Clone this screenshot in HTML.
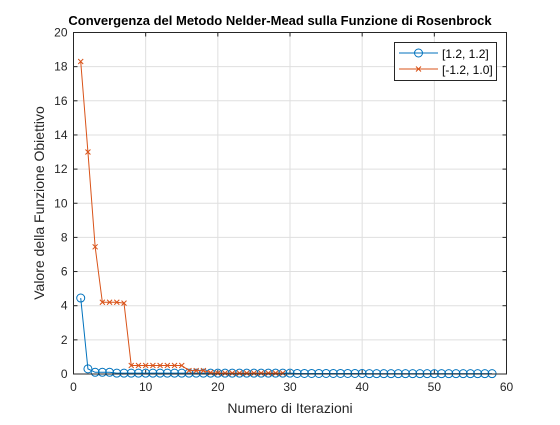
<!DOCTYPE html>
<html><head><meta charset="utf-8"><style>
body{margin:0;background:#fff;}
svg text{font-family:"Liberation Sans",sans-serif;}
</style></head><body>
<svg id="chart" width="560" height="420" xmlns="http://www.w3.org/2000/svg">
<rect x="0" y="0" width="560" height="420" fill="#fff"/>
<g id="grid"></g>
<g id="ticks"></g>
<g id="series"></g>
<rect x="73.5" y="32.5" width="433" height="341.5" fill="none" stroke="#262626" stroke-width="1"/>
<text x="280" y="25" text-anchor="middle" font-size="13" font-weight="bold" fill="#000">Convergenza del Metodo Nelder-Mead sulla Funzione di Rosenbrock</text>
<text x="290" y="413" text-anchor="middle" font-size="14" fill="#262626">Numero di Iterazioni</text>
<text transform="translate(44,203) rotate(-90)" text-anchor="middle" font-size="14" fill="#262626">Valore della Funzione Obiettivo</text>
<g>
<rect x="394.5" y="42.5" width="102" height="38" fill="#fff" stroke="#262626"/>
<g>
<line x1="399" y1="53" x2="438" y2="53" stroke="#0072BD"/>
<circle cx="418.5" cy="53" r="4" fill="none" stroke="#0072BD"/>
<text x="442" y="58" font-size="12" fill="#000">[1.2, 1.2]</text></g>
<g>
<line x1="399" y1="69" x2="438" y2="69" stroke="#D95319"/>
<path d="M416,66.5 L421,71.5 M421,66.5 L416,71.5" stroke="#D95319"/>
<text x="442" y="74" font-size="12" fill="#000">[-1.2, 1.0]</text></g>
</g>
</svg>
<script>
const xTicks=[0,10,20,30,40,50,60];
const yTicks=[0,2,4,6,8,10,12,14,16,18,20];
const seriesA=[4.45,0.3,0.1,0.1,0.1,0.05,0.05,0.05,0.05,0.05,0.05,0.05,0.05,0.05,0.05,0.05,0.05,0.05,0.05,0.05,0.05,0.05,0.05,0.05,0.05,0.05,0.05,0.05,0.05,0.05,0.03,0.03,0.03,0.03,0.03,0.03,0.03,0.03,0.03,0.03,0.02,0.02,0.02,0.02,0.02,0.02,0.02,0.02,0.02,0.02,0.02,0.02,0.02,0.02,0.02,0.02,0.02,0.02];
const seriesB=[18.3,13.0,7.45,4.2,4.2,4.2,4.15,0.5,0.5,0.5,0.5,0.5,0.5,0.5,0.5,0.2,0.2,0.2,0.08,0.05,0.05,0.05,0.05,0.05,0.05,0.05,0.05,0.05,0.05];
const X0=73.5,X1=506.5,Y0=374,Y1=32.5;
const sx=v=>X0+(v-0)/(60-0)*(X1-X0);
const sy=v=>Y0-(v-0)/(20-0)*(Y0-Y1);
const NS="http://www.w3.org/2000/svg";
const mk=(t,a,p)=>{const e=document.createElementNS(NS,t);for(const k in a)e.setAttribute(k,a[k]);p.appendChild(e);return e;};
const grid=document.getElementById('grid'),ticks=document.getElementById('ticks'),ser=document.getElementById('series');
xTicks.forEach(v=>{const x=sx(v);
const g=mk('line',{x1:x,x2:x,y1:Y0,y2:Y1,stroke:'#dfdfdf'},grid);


mk('line',{x1:x,x2:x,y1:Y0,y2:Y0-4,stroke:'#262626'},ticks);
mk('line',{x1:x,x2:x,y1:Y1,y2:Y1+4,stroke:'#262626'},ticks);
const t=mk('text',{x:x,y:Y0+17,'text-anchor':'middle','font-size':12,fill:'#262626'},ticks);t.textContent=v;

});
yTicks.forEach(v=>{const y=sy(v);
const g=mk('line',{x1:X0,x2:X1,y1:y,y2:y,stroke:'#dfdfdf'},grid);


mk('line',{x1:X0,x2:X0+4,y1:y,y2:y,stroke:'#262626'},ticks);
mk('line',{x1:X1,x2:X1-4,y1:y,y2:y,stroke:'#262626'},ticks);
const t=mk('text',{x:X0-6,y:y+4,'text-anchor':'end','font-size':12,fill:'#262626'},ticks);t.textContent=v;

});
function draw(data,color,marker,name){
const pts=data.map((v,i)=>sx(i+1)+','+sy(v)).join(' ');
const pl=mk('polyline',{points:pts,fill:'none',stroke:color,'stroke-width':1},ser);


data.forEach((v,i)=>{const x=sx(i+1),y=sy(v);let m;
if(marker==='o'){m=mk('circle',{cx:x,cy:y,r:4,fill:'none',stroke:color},ser);}
else{m=mk('path',{d:`M${x-2.5},${y-2.5}L${x+2.5},${y+2.5}M${x+2.5},${y-2.5}L${x-2.5},${y+2.5}`,stroke:color},ser);}

});}
draw(seriesA,'#0072BD','o','series-1-2');
draw(seriesB,'#D95319','x','series-neg1-2');
</script>
</body></html>
